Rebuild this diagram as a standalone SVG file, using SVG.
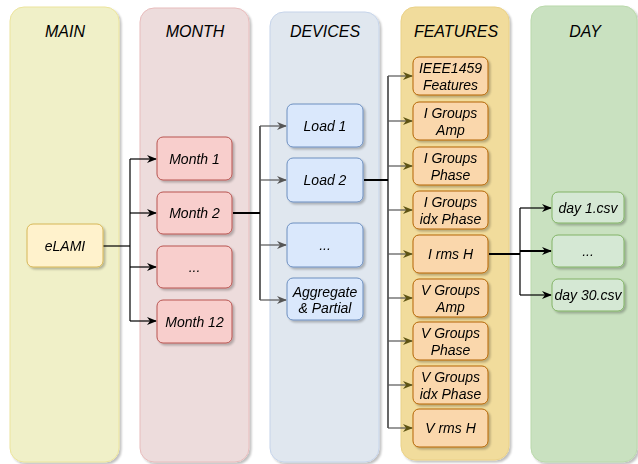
<svg xmlns="http://www.w3.org/2000/svg" width="638" height="464" viewBox="0 0 638 464">
<defs>
<filter id="sh" x="-10%" y="-10%" width="130%" height="130%">
<feGaussianBlur in="SourceAlpha" stdDeviation="1"/>
<feOffset dx="2" dy="2" result="o"/>
<feComponentTransfer><feFuncA type="linear" slope="0.25"/></feComponentTransfer>
<feMerge><feMergeNode/><feMergeNode in="SourceGraphic"/></feMerge>
</filter>
<marker id="ab" markerWidth="10" markerHeight="8" refX="9" refY="4" orient="auto" markerUnits="userSpaceOnUse"><path d="M0,0 L10,4 L0,8 L3,4 Z" fill="#000"/></marker>
<marker id="ag" markerWidth="10" markerHeight="8" refX="9" refY="4" orient="auto" markerUnits="userSpaceOnUse"><path d="M0,0 L10,4 L0,8 L3,4 Z" fill="#555"/></marker>
<marker id="ao" markerWidth="10" markerHeight="8" refX="9" refY="4" orient="auto" markerUnits="userSpaceOnUse"><path d="M0,0 L10,4 L0,8 L3,4 Z" fill="#5e5414"/></marker>
</defs>
<style>
text{font-family:"Liberation Sans",Arial,sans-serif;font-style:italic;text-anchor:middle;fill:#000}
.t{font-size:16px}
.n{font-size:14px}
.lane{stroke-width:1}
.c{fill:none;stroke:#000;stroke-width:1.2}
.g{fill:none;stroke:#555;stroke-width:1.2}
</style>
<g id="lanes" filter="url(#sh)">
<rect class="lane" x="10" y="7" width="109" height="455" rx="14" fill="#f0f0c8" stroke="#ece49c"/>
<rect class="lane" x="140" y="8" width="109" height="454" rx="14" fill="#eddcdc" stroke="#e8bcbc"/>
<rect class="lane" x="270" y="12" width="109" height="450" rx="14" fill="#e0e7ef" stroke="#c6d4ea"/>
<rect class="lane" x="401" y="7" width="108" height="453" rx="14" fill="#f1dc9c" stroke="#ead187"/>
<rect class="lane" x="531" y="6" width="106" height="456" rx="14" fill="#c9e1c0" stroke="#bad9ab"/>
</g>
<g id="titles">
<text class="t" x="65" y="37">MAIN</text>
<text class="t" x="195" y="37">MONTH</text>
<text class="t" x="325" y="37">DEVICES</text>
<text class="t" x="456" y="37">FEATURES</text>
<text class="t" x="585" y="37">DAY</text>
</g>
<g id="connectors">
<path class="c" d="M103,246 H130"/>
<path class="c" d="M130,159 V321"/>
<path class="c" d="M130,159 H156" marker-end="url(#ab)"/>
<path class="c" d="M130,213 H156" marker-end="url(#ab)"/>
<path class="c" d="M130,267 H156" marker-end="url(#ab)"/>
<path class="c" d="M130,321 H156" marker-end="url(#ab)"/>
<path class="c" d="M233,213 H260" style="stroke-width:2"/>
<path class="c" d="M260,126 V300"/>
<path class="g" d="M260,126 H286" marker-end="url(#ag)"/>
<path class="g" d="M260,180 H286" marker-end="url(#ag)"/>
<path class="g" d="M260,245 H286" marker-end="url(#ag)"/>
<path class="g" d="M260,300 H286" marker-end="url(#ag)"/>
<path class="c" d="M364,180 H388" style="stroke-width:2"/>
<path class="c" d="M388,76 V428"/>
<path class="g" d="M388,76 H412" marker-end="url(#ao)"/>
<path class="g" d="M388,121 H412" marker-end="url(#ao)"/>
<path class="g" d="M388,166 H412" marker-end="url(#ao)"/>
<path class="g" d="M388,210 H412" marker-end="url(#ao)"/>
<path class="g" d="M388,254 H412" marker-end="url(#ao)"/>
<path class="g" d="M388,298 H412" marker-end="url(#ao)"/>
<path class="g" d="M388,341 H412" marker-end="url(#ao)"/>
<path class="g" d="M388,385 H412" marker-end="url(#ao)"/>
<path class="g" d="M388,428 H412" marker-end="url(#ao)"/>
<path class="c" d="M489,254 H520" style="stroke-width:2"/>
<path class="c" d="M520,208 V295"/>
<path class="c" d="M520,208 H551" marker-end="url(#ab)"/>
<path class="c" d="M520,251 H551" style="stroke-width:2" marker-end="url(#ab)"/>
<path class="c" d="M520,295 H551" marker-end="url(#ab)"/>
</g>
<g id="eLAMI" filter="url(#sh)"><rect x="27" y="224" width="76" height="43" rx="6" fill="#fff2cc" stroke="#d6b656"/><text class="n" x="65" y="251">eLAMI</text></g>
<g id="month1" filter="url(#sh)"><rect x="157" y="137" width="75" height="43" rx="6" fill="#f8cecc" stroke="#b85450"/><text class="n" x="194.5" y="164">Month 1</text></g>
<g id="month2" filter="url(#sh)"><rect x="157" y="192" width="75" height="42" rx="6" fill="#f8cecc" stroke="#b85450"/><text class="n" x="194.5" y="218">Month 2</text></g>
<g id="monthdots" filter="url(#sh)"><rect x="157" y="246" width="75" height="42" rx="6" fill="#f8cecc" stroke="#b85450"/><text class="n" x="194.5" y="272">...</text></g>
<g id="month12" filter="url(#sh)"><rect x="157" y="300" width="75" height="43" rx="6" fill="#f8cecc" stroke="#b85450"/><text class="n" x="194.5" y="327">Month 12</text></g>
<g id="load1" filter="url(#sh)"><rect x="287" y="104" width="76" height="43" rx="6" fill="#dae8fc" stroke="#6c8ebf"/><text class="n" x="325" y="131">Load 1</text></g>
<g id="load2" filter="url(#sh)"><rect x="287" y="158" width="76" height="44" rx="6" fill="#dae8fc" stroke="#6c8ebf"/><text class="n" x="325" y="185">Load 2</text></g>
<g id="loaddots" filter="url(#sh)"><rect x="287" y="223" width="76" height="44" rx="6" fill="#dae8fc" stroke="#6c8ebf"/><text class="n" x="325" y="250">...</text></g>
<g id="aggregate" filter="url(#sh)"><rect x="287" y="278" width="76" height="42" rx="6" fill="#dae8fc" stroke="#6c8ebf"/><text class="n" x="325" y="297">Aggregate</text><text class="n" x="325" y="313">&amp; Partial</text></g>
<g id="f1" filter="url(#sh)"><rect x="413" y="57" width="75" height="38" rx="6" fill="#fad7ac" stroke="#b46504"/><text class="n" x="450.5" y="73">IEEE1459</text><text class="n" x="450.5" y="90">Features</text></g>
<g id="f2" filter="url(#sh)"><rect x="413" y="102" width="75" height="38" rx="6" fill="#fad7ac" stroke="#b46504"/><text class="n" x="450.5" y="118">I Groups</text><text class="n" x="450.5" y="135">Amp</text></g>
<g id="f3" filter="url(#sh)"><rect x="413" y="147" width="75" height="38" rx="6" fill="#fad7ac" stroke="#b46504"/><text class="n" x="450.5" y="163">I Groups</text><text class="n" x="450.5" y="180">Phase</text></g>
<g id="f4" filter="url(#sh)"><rect x="413" y="191" width="75" height="38" rx="6" fill="#fad7ac" stroke="#b46504"/><text class="n" x="450.5" y="207">I Groups</text><text class="n" x="450.5" y="224">idx Phase</text></g>
<g id="f5" filter="url(#sh)"><rect x="413" y="235" width="75" height="38" rx="6" fill="#fad7ac" stroke="#b46504"/><text class="n" x="450.5" y="259">I rms H</text></g>
<g id="f6" filter="url(#sh)"><rect x="413" y="279" width="75" height="38" rx="6" fill="#fad7ac" stroke="#b46504"/><text class="n" x="450.5" y="295">V Groups</text><text class="n" x="450.5" y="312">Amp</text></g>
<g id="f7" filter="url(#sh)"><rect x="413" y="322" width="75" height="38" rx="6" fill="#fad7ac" stroke="#b46504"/><text class="n" x="450.5" y="338">V Groups</text><text class="n" x="450.5" y="355">Phase</text></g>
<g id="f8" filter="url(#sh)"><rect x="413" y="366" width="75" height="38" rx="6" fill="#fad7ac" stroke="#b46504"/><text class="n" x="450.5" y="382">V Groups</text><text class="n" x="450.5" y="399">idx Phase</text></g>
<g id="f9" filter="url(#sh)"><rect x="413" y="409" width="75" height="38" rx="6" fill="#fad7ac" stroke="#b46504"/><text class="n" x="450.5" y="433">V rms H</text></g>
<g id="day1" filter="url(#sh)"><rect x="552" y="192" width="72" height="31" rx="6" fill="#d5e8d4" stroke="#82b366"/><text class="n" x="588" y="213">day 1.csv</text></g>
<g id="daydots" filter="url(#sh)"><rect x="552" y="235" width="72" height="32" rx="6" fill="#d5e8d4" stroke="#82b366"/><text class="n" x="588" y="256">...</text></g>
<g id="day30" filter="url(#sh)"><rect x="552" y="279" width="72" height="32" rx="6" fill="#d5e8d4" stroke="#82b366"/><text class="n" x="588" y="300">day 30.csv</text></g>
</svg>
